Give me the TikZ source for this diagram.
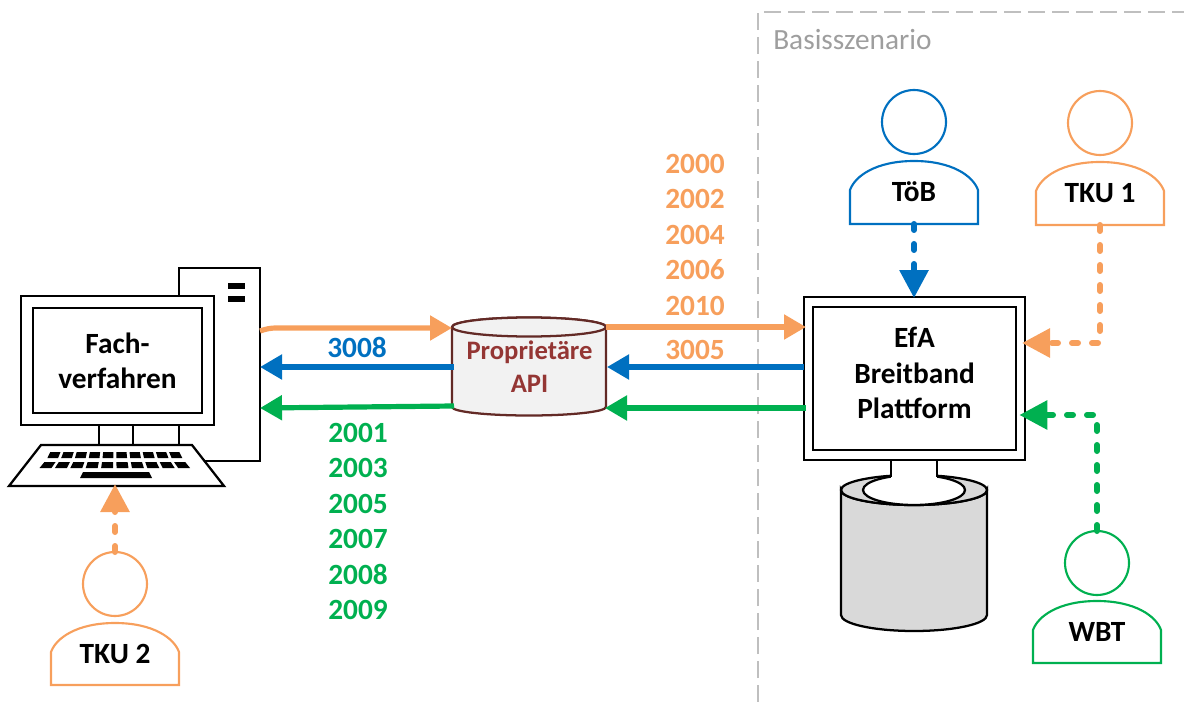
\documentclass[tikz,border=0pt]{standalone}
\usepackage{fontspec}
\setmainfont{Carlito}
\usetikzlibrary{arrows.meta}
\definecolor{cOrange}{HTML}{F79F5C}
\definecolor{cBlue}{HTML}{0070C0}
\definecolor{cGreen}{HTML}{00B050}
\definecolor{cBrown}{HTML}{632A26}
\definecolor{cApi}{HTML}{943634}
\definecolor{cGrid}{HTML}{BFBFBF}
\tikzset{
  blk/.style={draw=black,line width=1.7pt,fill=white,line join=miter},
  box/.style={blk,rectangle,inner sep=0pt,outer sep=0pt},
  lbl/.style={font=\fontsize{22}{26.6}\selectfont\bfseries,inner sep=0pt,outer sep=0pt,align=center},
  num/.style={lbl,anchor=base},
  flow/.style={line width=3.9pt,-{Triangle[length=16.5pt,width=18pt]}},
  dflow/.style={line width=4.5pt,line cap=round,shorten >=-2.25pt,dash pattern=on 4.5pt off 10.5pt,-{Triangle[length=21pt,width=21pt]}},
  key/.style={fill=black,draw=none},
}
\newcommand{\persona}[7]{% name, cx, head cy, body top, body bottom, colour, text
  \node[circle,draw=#6,line width=1.6pt,fill=white,minimum size=48pt,inner sep=0pt,outer sep=0pt] (#1h) at (#2,#3) {};
  \node[lbl,rectangle,minimum width=96pt,minimum height={(#5-#4)*0.75pt},text height=14pt,text depth=0pt,anchor=center] (#1) at (#2,{(#4+#5)/2}) {#7};
  \draw[#6,line width=1.6pt,line join=miter]
    (#1.south west) -- ([yshift=-29*0.75pt]#1.north west)
    .. controls +(5,-14) and +(-38,0) .. (#1.north)
    .. controls +(38,0) and +(-5,-14) .. ([yshift=-29*0.75pt]#1.north east)
    -- (#1.south east) -- cycle;
}
\begin{document}
\begin{tikzpicture}[x=0.75pt,y=-0.75pt]
\useasboundingbox (0,0) rectangle (1184,702);
% scenario frame
\coordinate (frameA) at (758,702);
\coordinate (frameB) at (758,12);
\coordinate (frameC) at (1184,12);
\draw[cGrid,line width=1.6pt,dash pattern=on 13pt off 5pt] (frameA) -- (frameB) -- (frameC);
\node[font=\fontsize{22}{26}\selectfont,text=black!38,anchor=base west,inner sep=0pt] (scen) at (773,50) {Basisszenario};

% left computer
\node[box,minimum width=60.75pt,minimum height=144.75pt,anchor=north west] (tower) at (179,268) {};
\fill (228,283) rectangle (245,289);
\fill (228,296) rectangle (245,302);
\draw[black,line width=1.7pt] (99,424) -- (99,446);
\draw[black,line width=1.7pt] (133,424) -- (133,446);
\node[box,minimum width=144.75pt,minimum height=96.75pt,anchor=north west] (monL) at (21,296) {};
\node[box,minimum width=126.75pt,minimum height=78.75pt,anchor=north west] (scrL) at (33,308) {};
\node[lbl] (scrLt) at (117.5,361) {Fach-\\verfahren};
\draw[blk] (41,445) -- (192,445) -- (224,486) -- (9,486) -- cycle;
\foreach \i in {0,...,9}{
  \pgfmathsetmacro{\tz}{-1+\i*0.2+0.02}
  \pgfmathsetmacro{\tu}{\tz+0.155}
  \fill[key] ({115+\tz*66},452) -- ({115+\tu*66},452) -- ({115+\tu*69},458) -- ({115+\tz*69},458) -- cycle;
  \fill[key] ({115+\tz*72},462) -- ({115+\tu*72},462) -- ({115+\tu*77},468) -- ({115+\tz*77},468) -- cycle;
}
\fill[key] (83,472) -- (149,472) -- (152,478) -- (80,478) -- cycle;

% API cylinder
\node[rectangle,inner sep=0pt,outer sep=0pt,minimum width=115.5pt,minimum height=60pt,anchor=north west] (api) at (452,327) {};
\draw[cBrown,line width=1.7pt,fill=black!5]
  (api.north west) arc[start angle=180,end angle=360,x radius=77,y radius=9.5]
  -- (api.south east) arc[start angle=0,end angle=180,x radius=77,y radius=8.5] -- cycle;
\draw[cBrown,line width=1.7pt,fill=black!5]
  (api.north west) arc[start angle=180,end angle=540,x radius=77,y radius=9.5];
\node[lbl,text=cApi,font=\fontsize{20}{24.8}\selectfont\bfseries] (apit) at (529.5,367) {Proprietäre\\API};

% right platform
\draw[blk,fill=black!15] (841,490) -- (841,615) arc[start angle=180,end angle=0,x radius=73,y radius=16] -- (987,490) arc[start angle=0,end angle=180,x radius=73,y radius=15] -- cycle;
\draw[blk,fill=black!15] (914,490) ellipse[x radius=73,y radius=15];
\draw[blk] (914,490) ellipse[x radius=51,y radius=15];
\fill[white] (891,455) rectangle (937,484);
\draw[black,line width=1.7pt] (891,460) -- (891,477);
\draw[black,line width=1.7pt] (937,460) -- (937,477);
\node[box,minimum width=165.75pt,minimum height=122.25pt,anchor=north west] (monR) at (804,297) {};
\node[box,minimum width=152.25pt,minimum height=107.25pt,anchor=north west] (scrR) at (813,307) {};
\node[lbl] (scrRt) at (914.5,373) {EfA\\Breitband\\Plattform};

% people
\persona{tob}{914}{122}{161}{224}{cBlue}{TöB}
\persona{tkua}{1100}{123}{162}{225}{cOrange}{TKU 1}
\persona{wbt}{1097}{563}{601}{663}{cGreen}{WBT}
\persona{tkub}{115}{584}{623}{685}{cOrange}{TKU 2}

% flow rows
\coordinate (rowO) at (0,328);
\coordinate (rowB) at (0,367);
\coordinate (rowG) at (0,408);
\coordinate (bendO) at (276,328);
\coordinate (cornerO) at (1100,343);
\coordinate (cornerG) at (1097,415);

\draw[flow,cOrange] (tower.east |- 0,331) .. controls (266,329) and (270,328) .. (bendO) -- (api.north west |- rowO);
\draw[flow,cBlue] (454,367) -- (tower.east |- rowB);
\draw[flow,cGreen] (454,406) -- (tower.east |- rowG);
\draw[flow,cOrange] (606,327) -- ([xshift=1.5pt]monR.west |- 0,327);
\draw[flow,cBlue] (monR.west |- rowB) -- (607,367);
\draw[flow,cGreen] (806,408) -- (605,408);

\draw[dflow,cBlue] (tob.south) -- ([yshift=1.5pt]monR.north -| tob.south);
\draw[dflow,cOrange] (tkua.south) -- (cornerO) -- (monR.east |- cornerO);
\draw[dflow,cGreen] (wbth.north) -- (cornerG) -- ([xshift=-2pt]monR.east |- cornerG);
\draw[dflow,cOrange] (tkubh.north) -- (115,487);

% numbers
\foreach \n/\t/\y in {a/2000/173.5,b/2002/208.5,c/2004/244.5,d/2006/279.5,e/2010/315,f/3005/359}
  \node[num,text=cOrange] (o\n) at (695,\y) {\t};
\node[num,text=cBlue] (b3008) at (357,357) {3008};
\foreach \n/\t/\y in {a/2001/442,b/2003/477.5,c/2005/513,d/2007/548,e/2008/584,f/2009/619}
  \node[num,text=cGreen] (g\n) at (358,\y) {\t};
\end{tikzpicture}
\end{document}
